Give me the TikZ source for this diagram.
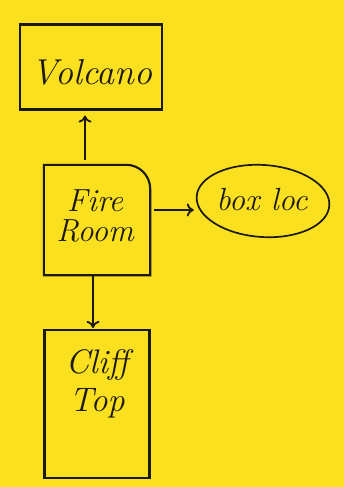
\documentclass[tikz,border=0pt]{standalone}
\usetikzlibrary{arrows.meta,shapes.geometric,calc}
\definecolor{paper}{RGB}{250,224,30}
\definecolor{ink}{RGB}{28,24,20}
\tikzset{
  box/.style={draw=ink, line width=2.1pt, rectangle, inner sep=0pt},
  hand/.style={text=ink, font=\itshape\fontsize{32}{32}\selectfont, align=center},
  arr/.style={draw=ink, line width=2pt, -{To[length=7pt,width=13pt,line width=1.8pt]}},
}
\begin{document}
\begin{tikzpicture}[x=1pt,y=-1pt]
\fill[paper] (0,0) rectangle (344,487);
\useasboundingbox (0,0) rectangle (344,487);
% Volcano
\node[box, minimum width=142pt, minimum height=85pt] (vol) at (91,67) {};
\node[hand, font=\itshape\fontsize{36}{36}\selectfont] (volt) at (92,72) {Volcano};
% Fire Room (drawn outline with a rounded top-right corner)
\node[minimum width=106pt, minimum height=110pt, inner sep=0pt] (fr) at (97,220) {};
\draw[draw=ink, line width=2.1pt] (fr.south west) -- (fr.north west)
  [rounded corners=24pt] -- (fr.north east) [sharp corners] -- (fr.south east) -- cycle;
\node[hand] (frt) at (95,216) {Fire\\[-2pt]Room};
% box loc
\node[draw=ink, line width=1.7pt, ellipse, minimum width=133pt, minimum height=72pt, rotate=-4] (bl) at (263,201) {};
\node[hand] (blt) at (262,200) {box loc};
% Cliff Top
\node[box, minimum width=105pt, minimum height=148pt] (ct) at (97,404) {};
\node[hand, font=\itshape\fontsize{34}{34}\selectfont] (ctt) at (97,384) {Cliff\\[4pt]Top};
% connectors
\coordinate (rs) at ($(fr.east)+(0,-10)$);
\draw[arr, shorten <=5pt, shorten >=5pt] ($(fr.north)+(-12,0)$) -- ($(vol.south)+(-6,0)$);
\draw[arr, shorten <=4pt, shorten >=2pt] (rs) -- (rs -| bl.west);
\draw[arr, shorten >=1pt] ($(fr.south)+(-4,0)$) -- ($(ct.north)+(-4,0)$);
\end{tikzpicture}
\end{document}
